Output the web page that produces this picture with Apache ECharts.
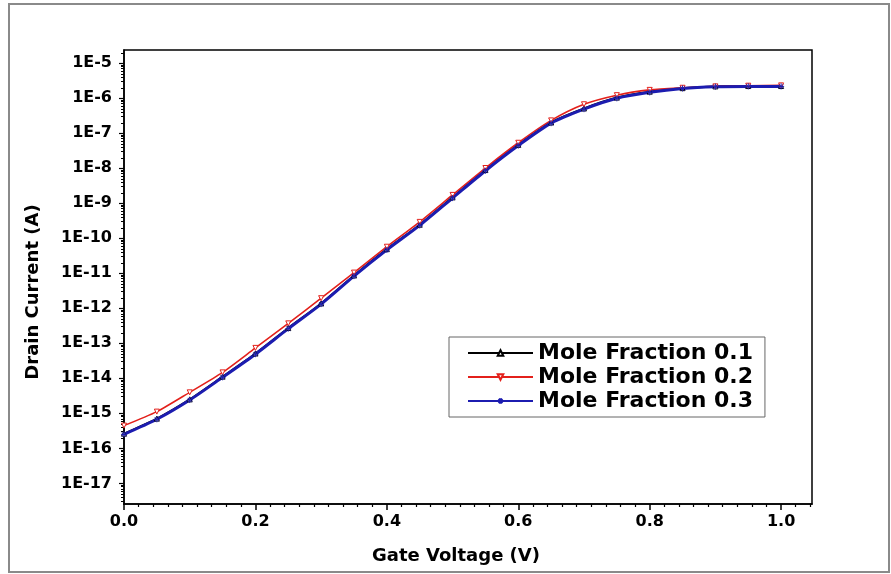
<!DOCTYPE html>
<html>
<head>
<meta charset="utf-8">
<script src="https://cdn.jsdelivr.net/npm/echarts@6/dist/echarts.min.js"></script>
<style>html,body{margin:0;padding:0;background:#fff;}#c{width:891px;height:574px;}</style>
</head>
<body>
<div id="c"></div>
<script>
// Gate voltage (V)
const gateVoltage = [0, 0.05, 0.1, 0.15, 0.2, 0.25, 0.3, 0.35, 0.4, 0.45, 0.5, 0.55, 0.6, 0.65, 0.7, 0.75, 0.8, 0.85, 0.9, 0.95, 1.0];
// Drain current (A)
const moleFraction01 = [2.63e-16, 7.08e-16, 2.51e-15, 1.12e-14, 5.13e-14, 2.75e-13, 1.38e-12, 8.71e-12, 4.90e-11, 2.45e-10, 1.48e-9, 8.91e-9, 4.68e-8, 2.04e-7, 5.13e-7, 1.05e-6, 1.55e-6, 1.95e-6, 2.19e-6, 2.24e-6, 2.24e-6];
const moleFraction02 = [4.47e-16, 1.12e-15, 3.98e-15, 1.48e-14, 7.41e-14, 3.72e-13, 1.95e-12, 1.05e-11, 5.75e-11, 2.95e-10, 1.74e-9, 1.02e-8, 5.37e-8, 2.34e-7, 6.76e-7, 1.23e-6, 1.74e-6, 2.0e-6, 2.19e-6, 2.29e-6, 2.34e-6];
const moleFraction03 = [2.51e-16, 6.76e-16, 2.40e-15, 1.07e-14, 4.90e-14, 2.63e-13, 1.32e-12, 8.32e-12, 4.68e-11, 2.34e-10, 1.41e-9, 8.51e-9, 4.47e-8, 1.95e-7, 4.90e-7, 1.0e-6, 1.48e-6, 1.91e-6, 2.14e-6, 2.19e-6, 2.19e-6];
const seriesNames = ['Mole Fraction 0.1', 'Mole Fraction 0.2', 'Mole Fraction 0.3'];
// Axis ticks
const xTickValues = [0, 0.2, 0.4, 0.6, 0.8, 1.0];
const yTickExponents = [-17, -16, -15, -14, -13, -12, -11, -10, -9, -8, -7, -6, -5];
const xRange = [0, 1.047];
const yRangeExp = [-17.59, -4.62];

const toPts = arr => arr.map((c, i) => [gateVoltage[i], Math.log10(c)]);

// minor ticks
const yMinor = [];
for (let e = -18; e <= -5; e++) {
  for (let k = 2; k <= 9; k++) {
    const v = e + Math.log10(k);
    if (v > yRangeExp[0] && v < yRangeExp[1]) yMinor.push(v);
  }
}
const xMinor = [];
for (let k = 0; k * 0.2 / 9 <= xRange[1] + 1e-9; k++) {
  if (k % 9 !== 0) xMinor.push(k * 0.2 / 9);
}

const FONT = 'DejaVu Sans';
const chart = echarts.init(document.getElementById('c'), null, {renderer: 'canvas'});
const asterisk = 'path://M0,5 L10,5 M5,0 L5,10 M1.5,1.5 L8.5,8.5 M8.5,1.5 L1.5,8.5';

chart.setOption({
  animation: false,
  backgroundColor: '#fff',
  grid: {left: 124, top: 50, right: 79, bottom: 70, show: true, borderColor: '#000', borderWidth: 1.5, backgroundColor: 'transparent'},
  graphic: [{
    type: 'rect', shape: {x: 9, y: 4, width: 880, height: 568},
    style: {fill: 'none', stroke: '#8a8a8a', lineWidth: 2}, silent: true, z: -10
  }],
  legend: {
    orient: 'vertical', left: 449, top: 337,
    padding: [5, 12, 5, 18], itemGap: 2,
    itemWidth: 65, itemHeight: 7,
    borderColor: '#666', borderWidth: 1,
    textStyle: {fontFamily: FONT, fontWeight: 'bold', fontSize: 22, color: '#000', lineHeight: 22},
    data: seriesNames
  },
  xAxis: [{
    type: 'value', min: xRange[0], max: xRange[1], position: 'bottom',
    name: 'Gate Voltage (V)', nameLocation: 'middle', nameGap: 43,
    nameTextStyle: {fontFamily: FONT, fontWeight: 'bold', fontSize: 18, color: '#000', padding: [0, 24, 0, 0]},
    axisLine: {lineStyle: {color: '#000', width: 1.5}},
    axisTick: {show: true, length: 6, lineStyle: {color: '#000', width: 1.5}, customValues: xTickValues},
    axisLabel: {fontFamily: FONT, fontWeight: 'bold', fontSize: 16, color: '#000', margin: 10,
      customValues: xTickValues, formatter: v => v.toFixed(1)},
    splitLine: {show: false}
  }, {
    type: 'value', min: xRange[0], max: xRange[1], position: 'bottom', offset: 0,
    axisLine: {show: false},
    axisTick: {show: true, length: 3, lineStyle: {color: '#000', width: 1.2}, customValues: xMinor},
    axisLabel: {show: false}, splitLine: {show: false}
  }],
  yAxis: [{
    type: 'value', min: yRangeExp[0], max: yRangeExp[1], position: 'left',
    name: 'Drain Current (A)', nameLocation: 'middle', nameGap: 82, nameRotate: 90,
    nameTextStyle: {fontFamily: FONT, fontWeight: 'bold', fontSize: 18, color: '#000', padding: [0, 30, 0, 0]},
    axisLine: {show: true, lineStyle: {color: '#000', width: 1.5}},
    axisTick: {show: true, length: 5, lineStyle: {color: '#000', width: 1.2}, customValues: yTickExponents},
    axisLabel: {fontFamily: FONT, fontWeight: 'bold', fontSize: 16, color: '#000', margin: 12,
      customValues: yTickExponents, formatter: v => '1E' + Math.round(v)},
    splitLine: {show: false}
  }, {
    type: 'value', min: yRangeExp[0], max: yRangeExp[1], position: 'left', offset: 0,
    axisLine: {show: false},
    axisTick: {show: true, length: 3, lineStyle: {color: '#000', width: 1}, customValues: yMinor},
    axisLabel: {show: false}, splitLine: {show: false}
  }],
  series: [{
    name: seriesNames[0], type: 'line', xAxisIndex: 0, yAxisIndex: 0,
    data: toPts(moleFraction01), smooth: 0.25,
    symbol: 'triangle', symbolSize: 5,
    lineStyle: {color: '#000', width: 2},
    itemStyle: {color: '#fff', borderColor: '#000', borderWidth: 1}
  }, {
    name: seriesNames[1], type: 'line', xAxisIndex: 0, yAxisIndex: 0,
    data: toPts(moleFraction02), smooth: 0.25,
    symbol: 'triangle', symbolRotate: 180, symbolSize: 5,
    lineStyle: {color: '#e3201b', width: 1.6},
    itemStyle: {color: '#fff', borderColor: '#e3201b', borderWidth: 1}
  }, {
    name: seriesNames[2], type: 'line', xAxisIndex: 0, yAxisIndex: 0,
    data: toPts(moleFraction03), smooth: 0.25,
    symbol: asterisk, symbolSize: 6,
    lineStyle: {color: '#1c1cb0', width: 3},
    itemStyle: {color: '#1c1cb0', borderColor: '#1c1cb0', borderWidth: 1}
  }]
});
</script>
</body>
</html>
